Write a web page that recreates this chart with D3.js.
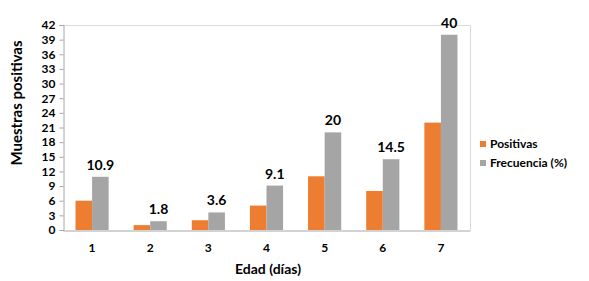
<!DOCTYPE html>
<html>
<head>
<meta charset="utf-8">
<script src="https://cdn.jsdelivr.net/npm/d3@7"></script>
<style>
  body { margin: 0; background: #fff; }
  text { font-family: Lato, "Open Sans", sans-serif; font-weight: bold; }
</style>
</head>
<body>
<svg id="chart"></svg>
<script>
const days = ["1", "2", "3", "4", "5", "6", "7"];
const positivas = [6, 1, 2, 5, 11, 8, 22];
const frecuencia = [10.9, 1.8, 3.6, 9.1, 20, 14.5, 40];
const yTicks = [0, 3, 6, 9, 12, 15, 18, 21, 24, 27, 30, 33, 36, 39, 42];
const seriesNames = ["Positivas", "Frecuencia (%)"];
const seriesColors = ["#ED7D31", "#A5A5A5"];

const width = 589, height = 281;
const margin = {top: 25, right: 119, bottom: 51, left: 63};
const plotW = width - margin.left - margin.right;
const plotH = height - margin.top - margin.bottom;

const svg = d3.select("#chart")
    .attr("width", width)
    .attr("height", height);

const g = svg.append("g")
    .attr("transform", `translate(${margin.left}, ${margin.top})`);

const x = d3.scaleBand().domain(days).range([0, plotW]).paddingInner(0.43).paddingOuter(0.215);
const xSub = d3.scaleBand().domain([0, 1]).range([0, x.bandwidth()]);
const y = d3.scaleLinear().domain([0, 42]).range([plotH, 0]);

// plot border (top / right)
g.append("path")
    .attr("d", `M0,0.5H${plotW + 0.5}V${plotH}`)
    .attr("fill", "none")
    .attr("stroke", "#d9d9d9");

// bars
const rows = days.map((d, i) => ({day: d, vals: [positivas[i], frecuencia[i]]}));
const groups = g.append("g").selectAll("g")
    .data(rows)
    .join("g")
    .attr("transform", d => `translate(${x(d.day)},0)`);

groups.selectAll("rect")
    .data(d => d.vals.map((v, k) => ({k, v})))
    .join("rect")
    .attr("x", d => xSub(d.k))
    .attr("width", xSub.bandwidth())
    .attr("y", d => y(d.v))
    .attr("height", d => plotH - y(d.v))
    .attr("fill", d => seriesColors[d.k]);

// value labels on the frecuencia bars
groups.append("text")
    .attr("x", d => xSub(1) + xSub.bandwidth() / 2)
    .attr("y", d => y(d.vals[1]) - 7)
    .attr("text-anchor", "middle")
    .attr("fill", "#000")
    .style("font-size", "14px")
    .text(d => d.vals[1]);

// y axis
const yAxis = g.append("g")
    .attr("transform", "translate(0.5,0)")
    .call(d3.axisLeft(y).tickValues(yTicks).tickSize(4).tickPadding(4));
yAxis.selectAll("line, path").attr("stroke", "#a6a6a6");
yAxis.selectAll("text").style("font-size", "12px").attr("fill", "#000");

// x axis
const xAxis = g.append("g")
    .attr("transform", `translate(0,${plotH + 0.5})`)
    .call(d3.axisBottom(x).tickSize(0).tickPadding(13));
xAxis.select("path").attr("stroke", "#a6a6a6");
xAxis.selectAll("text").style("font-size", "12px").attr("fill", "#000");

// axis titles
svg.append("text")
    .attr("transform", `translate(22,103) rotate(-90)`)
    .attr("text-anchor", "middle")
    .style("font-size", "15px")
    .text("Muestras positivas");

svg.append("text")
    .attr("x", 268)
    .attr("y", 274)
    .attr("text-anchor", "middle")
    .style("font-size", "14px")
    .text("Edad (días)");

// legend
const legend = svg.append("g").selectAll("g")
    .data(seriesNames)
    .join("g")
    .attr("transform", (d, i) => `translate(480,${141 + i * 19})`);
legend.append("rect")
    .attr("width", 6).attr("height", 6)
    .attr("fill", (d, i) => seriesColors[i]);
legend.append("text")
    .attr("x", 10).attr("y", 7)
    .style("font-size", "12px")
    .text(d => d);
</script>
</body>
</html>
